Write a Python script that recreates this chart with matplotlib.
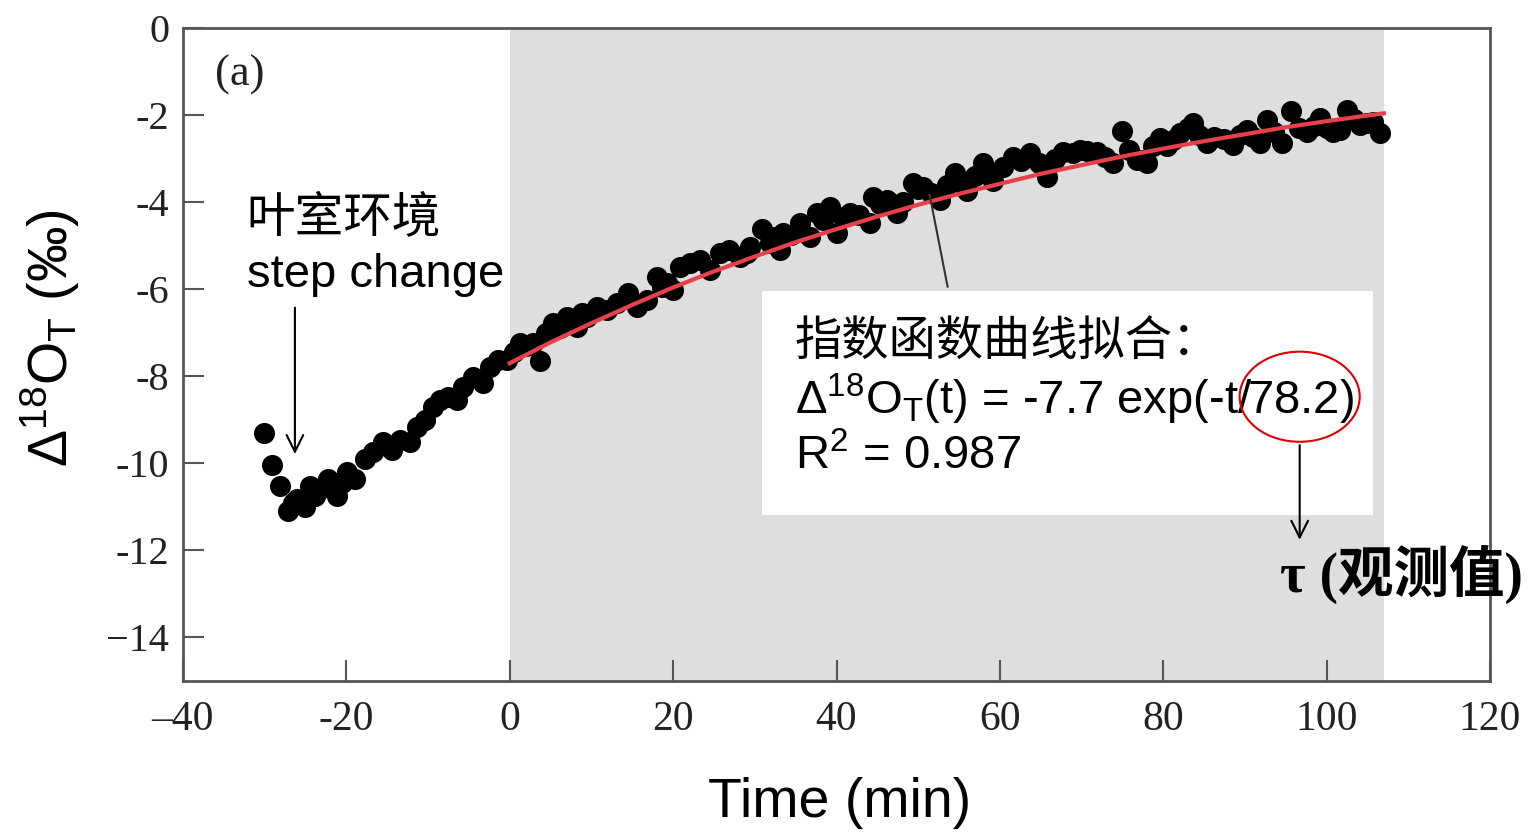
import matplotlib
matplotlib.use('Agg')
import matplotlib.pyplot as plt
from matplotlib.patches import Rectangle, Ellipse

plt.rcParams['font.family'] = ['Liberation Sans', 'Noto Sans CJK SC', 'DejaVu Sans']
plt.rcParams['mathtext.fontset'] = 'custom'
plt.rcParams['mathtext.rm'] = 'Liberation Sans'
plt.rcParams['mathtext.it'] = 'Liberation Sans:italic'

# datos
tiempo = [-30.1, -29.1, -28.1, -27.1, -26.5, -26.0, -25.1, -24.5, -23.8, -23.2,
          -22.2, -21.1, -20.5, -19.9, -18.9, -17.7, -16.7, -15.5, -14.4, -13.4,
          -12.2, -11.4, -10.4, -9.4, -8.5, -7.6, -6.5, -5.7, -4.5, -3.3,
          -2.4, -1.4, -0.3, 0.5, 1.3, 2.0, 2.8, 3.7, 4.4, 5.3,
          6.1, 7.0, 8.2, 8.8, 9.5, 10.7, 11.9, 13.1, 14.5, 15.6,
          16.8, 18.0, 18.6, 19.2, 20.0, 20.8, 22.1, 23.3, 24.5, 25.7,
          26.9, 28.2, 29.0, 29.4, 30.9, 31.9, 32.5, 33.1, 33.4, 34.4,
          35.5, 36.8, 37.6, 38.4, 39.2, 40.1, 40.8, 41.6, 42.8, 44.1,
          44.5, 45.3, 46.2, 47.4, 48.2, 49.4, 50.0, 50.6, 51.6, 52.7,
          53.5, 54.5, 55.2, 56.0, 57.0, 57.9, 58.5, 59.2, 60.4, 61.6,
          62.6, 63.7, 64.8, 65.8, 66.8, 67.7, 68.9, 69.8, 70.7, 71.9,
          72.9, 73.8, 74.9, 75.8, 76.8, 77.5, 78.0, 78.8, 79.6, 80.5,
          81.2, 82.0, 83.0, 83.6, 84.4, 85.3, 86.2, 87.4, 88.5, 89.4,
          90.2, 91.0, 91.8, 92.7, 93.5, 94.5, 95.7, 96.6, 97.6, 98.4,
          99.2, 100.0, 100.8, 101.6, 102.5, 103.3, 104.1, 104.9, 105.7, 106.5]
delta_o18 = [-9.30, -10.03, -10.53, -11.10, -10.90, -10.83, -11.00, -10.53, -10.75, -10.60,
             -10.37, -10.76, -10.45, -10.20, -10.37, -9.90, -9.75, -9.52, -9.69, -9.46,
             -9.52, -9.16, -9.00, -8.70, -8.54, -8.47, -8.54, -8.24, -8.01, -8.15,
             -7.78, -7.62, -7.62, -7.45, -7.23, -7.30, -7.23, -7.65, -7.00, -6.77,
             -6.90, -6.63, -6.86, -6.55, -6.63, -6.40, -6.47, -6.31, -6.08, -6.40,
             -6.24, -5.71, -5.95, -5.85, -6.01, -5.49, -5.39, -5.32, -5.55, -5.16,
             -5.10, -5.26, -5.16, -5.03, -4.62, -4.93, -4.80, -5.10, -4.71, -4.75,
             -4.48, -4.80, -4.25, -4.40, -4.11, -4.71, -4.35, -4.25, -4.30, -4.48,
             -3.88, -4.05, -3.95, -4.25, -4.00, -3.56, -3.70, -3.65, -3.80, -3.95,
             -3.60, -3.33, -3.55, -3.75, -3.40, -3.10, -3.35, -3.52, -3.20, -2.96,
             -3.05, -2.86, -3.10, -3.43, -3.00, -2.85, -2.87, -2.80, -2.82, -2.85,
             -2.96, -3.10, -2.37, -2.80, -3.03, -3.03, -3.10, -2.70, -2.53, -2.70,
             -2.57, -2.41, -2.30, -2.18, -2.45, -2.64, -2.50, -2.55, -2.68, -2.45,
             -2.34, -2.50, -2.64, -2.11, -2.40, -2.64, -1.90, -2.30, -2.38, -2.25,
             -2.07, -2.30, -2.38, -2.34, -1.88, -2.10, -2.22, -2.18, -2.15, -2.41]

ajuste_t = [0, 5, 10, 15, 20, 25, 30, 35, 40, 45, 50, 55,
            60, 65, 70, 75, 80, 85, 90, 95, 100, 105, 107]
ajuste_y = [-7.70, -7.22, -6.78, -6.36, -5.96, -5.59, -5.25, -4.92, -4.62, -4.33, -4.06, -3.81,
            -3.58, -3.35, -3.15, -2.95, -2.77, -2.60, -2.44, -2.28, -2.14, -2.01, -1.96]

periodo_sombreado = (0, 107)
xticks = [-40, -20, 0, 20, 40, 60, 80, 100, 120]
xtick_labels = ['\u201340', '-20', '0', '20', '40', '60', '80', '100', '120']
yticks = [0, -2, -4, -6, -8, -10, -12, -14]
ytick_labels = ['0', '-2', '-4', '-6', '-8', '-10', '-12', '\u221214']

fig = plt.figure(figsize=(15.4, 8.36), dpi=100)
ax = fig.add_axes([183 / 1540, 1 - 681 / 836, 1307 / 1540, 653 / 836])

ax.axvspan(*periodo_sombreado, color='#dedede', zorder=0, lw=0)
ax.scatter(tiempo, delta_o18, s=230, color='black', zorder=2, linewidths=0)
ax.plot(ajuste_t, ajuste_y, color='#e8404a', lw=3, zorder=3)

ax.set_xlim(-40, 120)
ax.set_ylim(-15, 0)
ax.set_xticks(xticks)
ax.set_xticklabels(xtick_labels, family='Liberation Serif', fontsize=30, color='#222222')
ax.set_yticks(yticks)
ax.set_yticklabels(ytick_labels, family='Liberation Serif', fontsize=29, color='#222222')
ax.tick_params(axis='both', direction='in', length=15, width=1.5, color='#555555')
ax.tick_params(axis='x', pad=14)
ax.tick_params(axis='y', pad=10)
for s in ax.spines.values():
    s.set_color('#555555')
    s.set_linewidth(2)

fig.text(50 / 1540, 1 - 338 / 836, r'Δ$^{18}$O$_\mathrm{T}$ (‰)', rotation=90,
         ha='center', va='center', fontsize=40)
fig.text(840 / 1540, 1 - 803 / 836, 'Time (min)', ha='center', va='center', fontsize=40)

ax.text(-36.1, -1.08, '(a)', family='Liberation Serif', fontsize=32, va='center', color='#222222')
ax.text(-32.2, -4.34, '叶室环境', fontsize=35, va='center',
        family=['Noto Sans CJK SC', 'Liberation Sans'])
ax.text(-32.2, -5.67, 'step change', fontsize=34, va='center')
ax.annotate('', xy=(-26.3, -9.85), xytext=(-26.3, -6.36),
            arrowprops=dict(arrowstyle='->', color='black', lw=1.5, mutation_scale=30))

# recuadro con la ecuacion del ajuste
ax.add_patch(Rectangle((30.9, -11.18), 74.8, 5.14, facecolor='white', edgecolor='none', zorder=4))
ax.plot([51.4, 53.6], [-3.83, -5.94], color='#333333', lw=1.5, zorder=5)
ax.text(34.9, -7.21, '指数函数曲线拟合：', fontsize=34, va='center', zorder=6,
        family=['Noto Sans CJK SC', 'Liberation Sans'])
ax.text(34.9, -8.54, r'Δ$^{18}$O$_\mathrm{T}$(t) = -7.7 exp(-t/78.2)', fontsize=34,
        va='center', zorder=6)
ax.text(34.9, -9.85, r'R$^2$ = 0.987', fontsize=34, va='center', zorder=6)
ax.add_patch(Ellipse((96.7, -8.47), 14.7, 2.07, facecolor='none', edgecolor='#e00000',
                     lw=1.5, zorder=7))
ax.annotate('', xy=(96.7, -11.82), xytext=(96.7, -9.52),
            arrowprops=dict(arrowstyle='->', color='black', lw=1.5, mutation_scale=30),
            zorder=7)
ax.text(94.3, -12.55, 'τ (观测值)', fontsize=40, fontweight='bold', va='center',
        family=['Liberation Serif', 'Noto Sans CJK SC'], clip_on=False, zorder=8)

fig.savefig('out.png', dpi=100)
